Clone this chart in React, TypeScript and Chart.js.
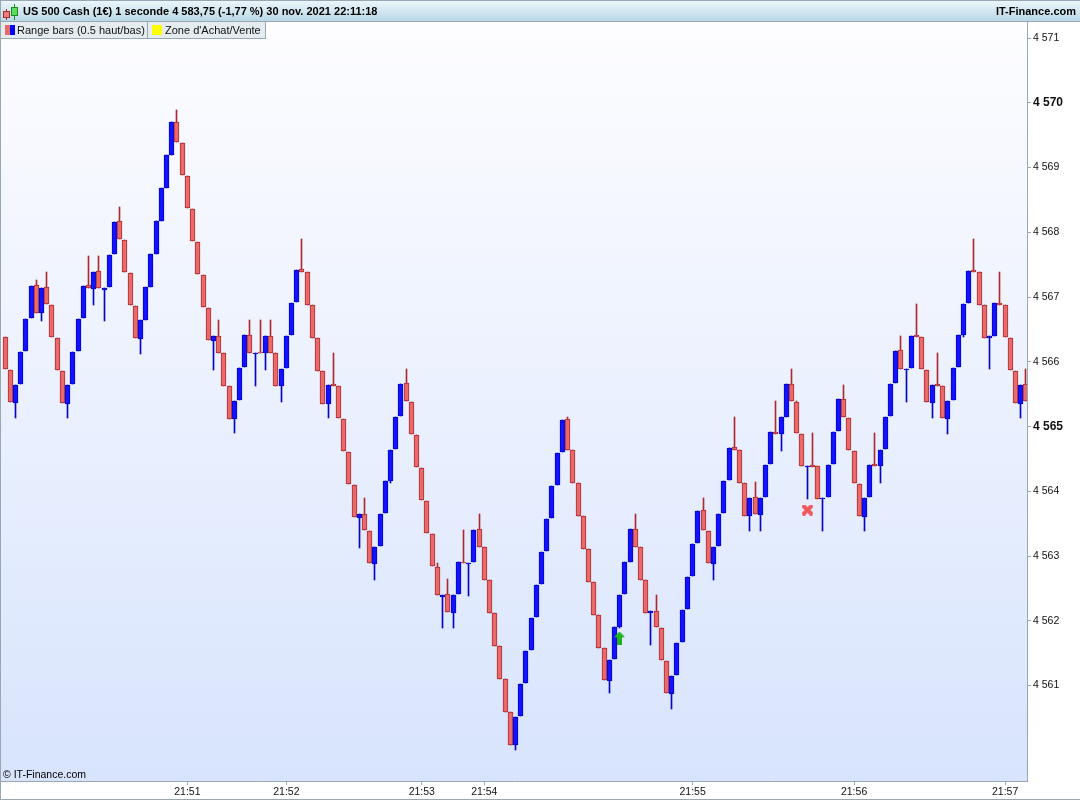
import { useEffect, useRef } from 'react';
import Chart from 'chart.js/auto';

const opens = [
  4566.38, 4565.87, 4565.36, 4565.66, 4566.17, 4566.68, 4567.19, 4566.75, 4567.16, 4566.88,
  4566.37, 4565.86, 4565.35, 4565.66, 4566.17, 4566.68, 4567.19, 4567.12, 4567.40, 4567.11,
  4567.16, 4567.66, 4568.17, 4567.88, 4567.37, 4566.86, 4566.35, 4566.65, 4567.16, 4567.66,
  4568.17, 4568.68, 4569.19, 4569.70, 4569.38, 4568.87, 4568.36, 4567.85, 4567.34, 4566.83,
  4566.32, 4566.40, 4566.14, 4565.62, 4565.12, 4565.41, 4565.92, 4566.41, 4566.12, 4566.15,
  4566.14, 4566.40, 4566.14, 4565.62, 4565.90, 4566.41, 4566.92, 4567.43, 4567.39, 4566.88,
  4566.37, 4565.86, 4565.35, 4565.66, 4565.62, 4565.12, 4564.61, 4564.10, 4563.59, 4563.65,
  4563.39, 4562.88, 4563.16, 4563.66, 4564.16, 4564.65, 4565.16, 4565.67, 4565.38, 4564.87,
  4564.36, 4563.85, 4563.34, 4562.83, 4562.37, 4562.41, 4562.12, 4562.41, 4562.91, 4562.88,
  4562.91, 4563.42, 4563.14, 4562.63, 4562.12, 4561.61, 4561.10, 4560.59, 4560.08, 4560.53,
  4561.04, 4561.55, 4562.06, 4562.57, 4563.08, 4563.59, 4564.10, 4564.61, 4565.12, 4564.64,
  4564.13, 4563.62, 4563.11, 4562.60, 4562.09, 4561.58, 4561.07, 4561.41, 4561.90, 4562.41,
  4562.91, 4563.42, 4563.14, 4562.63, 4562.12, 4562.15, 4561.89, 4561.38, 4560.87, 4561.16,
  4561.67, 4562.18, 4562.69, 4563.20, 4563.71, 4563.39, 4562.88, 4563.16, 4563.66, 4564.17,
  4564.68, 4564.64, 4564.13, 4563.62, 4563.91, 4563.63, 4563.91, 4564.42, 4564.92, 4564.88,
  4565.15, 4565.66, 4565.38, 4564.88, 4564.37, 4564.41, 4564.39, 4563.88, 4563.91, 4564.42,
  4564.93, 4565.43, 4565.13, 4564.62, 4564.11, 4563.60, 4563.91, 4564.42, 4564.39, 4564.65,
  4565.16, 4565.67, 4566.18, 4565.87, 4565.90, 4566.41, 4566.38, 4565.87, 4565.36, 4565.66,
  4565.62, 4565.12, 4565.41, 4565.92, 4566.41, 4566.91, 4567.42, 4567.39, 4566.88, 4566.37,
  4566.40, 4566.91, 4566.88, 4566.37, 4565.86, 4565.35, 4565.66,
];

const closes = [
  4565.89, 4565.38, 4565.64, 4566.15, 4566.66, 4567.17, 4566.75, 4567.14, 4566.89, 4566.38,
  4565.87, 4565.36, 4565.64, 4566.15, 4566.66, 4567.17, 4567.14, 4567.39, 4567.14, 4567.14,
  4567.65, 4568.16, 4567.90, 4567.39, 4566.88, 4566.37, 4566.65, 4567.16, 4567.66, 4568.17,
  4568.68, 4569.19, 4569.70, 4569.39, 4568.88, 4568.37, 4567.87, 4567.36, 4566.85, 4566.34,
  4566.40, 4566.14, 4565.62, 4565.12, 4565.39, 4565.90, 4566.41, 4566.14, 4566.14, 4566.14,
  4566.40, 4566.14, 4565.62, 4565.89, 4566.40, 4566.91, 4567.42, 4567.39, 4566.88, 4566.37,
  4565.86, 4565.35, 4565.64, 4565.62, 4565.13, 4564.62, 4564.11, 4563.60, 4563.65, 4563.40,
  4562.89, 4563.14, 4563.65, 4564.16, 4564.64, 4565.15, 4565.66, 4565.39, 4564.88, 4564.37,
  4563.87, 4563.36, 4562.85, 4562.40, 4562.40, 4562.14, 4562.40, 4562.91, 4562.89, 4562.89,
  4563.40, 4563.14, 4562.63, 4562.12, 4561.61, 4561.10, 4560.59, 4560.08, 4560.51, 4561.02,
  4561.53, 4562.04, 4562.55, 4563.06, 4563.57, 4564.08, 4564.59, 4565.10, 4564.64, 4564.13,
  4563.62, 4563.11, 4562.60, 4562.09, 4561.58, 4561.09, 4561.39, 4561.90, 4562.40, 4562.91,
  4563.42, 4563.14, 4562.63, 4562.12, 4562.15, 4561.90, 4561.39, 4560.89, 4561.15, 4561.66,
  4562.17, 4562.68, 4563.19, 4563.70, 4563.40, 4562.89, 4563.14, 4563.65, 4564.16, 4564.67,
  4564.64, 4564.13, 4563.62, 4563.90, 4563.65, 4563.90, 4564.41, 4564.92, 4564.88, 4565.15,
  4565.66, 4565.39, 4564.90, 4564.39, 4564.39, 4564.37, 4563.88, 4563.90, 4564.41, 4564.92,
  4565.43, 4565.15, 4564.64, 4564.13, 4563.62, 4563.90, 4564.41, 4564.39, 4564.64, 4565.15,
  4565.66, 4566.17, 4565.89, 4565.89, 4566.40, 4566.38, 4565.89, 4565.38, 4565.64, 4565.62,
  4565.13, 4565.39, 4565.90, 4566.41, 4566.89, 4567.40, 4567.39, 4566.88, 4566.37, 4566.40,
  4566.91, 4566.88, 4566.38, 4565.87, 4565.36, 4565.64, 4565.39,
];

const highs = [
  4566.38, 4565.87, 4565.64, 4566.15, 4566.66, 4567.17, 4567.26, 4567.14, 4567.39, 4566.88,
  4566.37, 4565.86, 4565.64, 4566.15, 4566.66, 4567.17, 4567.63, 4567.39, 4567.63, 4567.14,
  4567.65, 4568.16, 4568.39, 4567.88, 4567.37, 4566.86, 4566.65, 4567.16, 4567.66, 4568.17,
  4568.68, 4569.19, 4569.70, 4569.89, 4569.38, 4568.87, 4568.36, 4567.85, 4567.34, 4566.83,
  4566.40, 4566.65, 4566.14, 4565.62, 4565.39, 4565.90, 4566.41, 4566.65, 4566.14, 4566.65,
  4566.40, 4566.65, 4566.14, 4565.89, 4566.40, 4566.91, 4567.42, 4567.90, 4567.39, 4566.88,
  4566.37, 4565.86, 4565.64, 4566.14, 4565.62, 4565.12, 4564.61, 4564.10, 4563.65, 4563.90,
  4563.39, 4563.14, 4563.65, 4564.16, 4564.64, 4565.15, 4565.66, 4565.89, 4565.38, 4564.87,
  4564.36, 4563.85, 4563.34, 4562.89, 4562.40, 4562.65, 4562.40, 4562.91, 4563.40, 4562.89,
  4563.40, 4563.65, 4563.14, 4562.63, 4562.12, 4561.61, 4561.10, 4560.59, 4560.51, 4561.02,
  4561.53, 4562.04, 4562.55, 4563.06, 4563.57, 4564.08, 4564.59, 4565.10, 4565.15, 4564.64,
  4564.13, 4563.62, 4563.11, 4562.60, 4562.09, 4561.58, 4561.39, 4561.90, 4562.40, 4562.91,
  4563.42, 4563.65, 4563.14, 4562.63, 4562.15, 4562.40, 4561.89, 4561.38, 4561.15, 4561.66,
  4562.17, 4562.68, 4563.19, 4563.70, 4563.90, 4563.39, 4563.14, 4563.65, 4564.16, 4564.67,
  4565.15, 4564.64, 4564.13, 4563.90, 4564.14, 4563.90, 4564.41, 4564.92, 4565.39, 4565.15,
  4565.66, 4565.89, 4565.39, 4564.88, 4564.39, 4564.90, 4564.39, 4563.90, 4564.41, 4564.92,
  4565.43, 4565.64, 4565.13, 4564.62, 4564.11, 4563.90, 4564.41, 4564.90, 4564.64, 4565.15,
  4565.66, 4566.17, 4566.40, 4565.89, 4566.40, 4566.89, 4566.38, 4565.87, 4565.64, 4566.14,
  4565.62, 4565.39, 4565.90, 4566.41, 4566.89, 4567.40, 4567.90, 4567.39, 4566.88, 4566.40,
  4566.91, 4567.39, 4566.88, 4566.37, 4565.86, 4565.64, 4565.89,
];

const lows = [
  4565.89, 4565.38, 4565.13, 4565.66, 4566.17, 4566.68, 4566.75, 4566.63, 4566.89, 4566.38,
  4565.87, 4565.36, 4565.13, 4565.66, 4566.17, 4566.68, 4567.14, 4566.88, 4567.14, 4566.63,
  4567.16, 4567.66, 4567.90, 4567.39, 4566.88, 4566.37, 4566.12, 4566.65, 4567.16, 4567.66,
  4568.17, 4568.68, 4569.19, 4569.39, 4568.88, 4568.37, 4567.87, 4567.36, 4566.85, 4566.34,
  4565.87, 4566.14, 4565.62, 4565.12, 4564.90, 4565.41, 4565.92, 4566.14, 4565.62, 4566.14,
  4565.87, 4566.14, 4565.62, 4565.38, 4565.90, 4566.41, 4566.92, 4567.39, 4566.88, 4566.37,
  4565.86, 4565.35, 4565.13, 4565.62, 4565.13, 4564.62, 4564.11, 4563.60, 4563.12, 4563.40,
  4562.89, 4562.63, 4563.16, 4563.66, 4564.13, 4564.65, 4565.16, 4565.39, 4564.88, 4564.37,
  4563.87, 4563.36, 4562.85, 4562.40, 4561.89, 4562.14, 4561.89, 4562.41, 4562.89, 4562.38,
  4562.91, 4563.14, 4562.63, 4562.12, 4561.61, 4561.10, 4560.59, 4560.08, 4560.00, 4560.53,
  4561.04, 4561.55, 4562.06, 4562.57, 4563.08, 4563.59, 4564.10, 4564.61, 4564.64, 4564.13,
  4563.62, 4563.11, 4562.60, 4562.09, 4561.58, 4561.09, 4560.89, 4561.41, 4561.89, 4562.41,
  4562.91, 4563.14, 4562.63, 4562.12, 4561.62, 4561.90, 4561.39, 4560.89, 4560.64, 4561.16,
  4561.67, 4562.18, 4562.69, 4563.20, 4563.40, 4562.89, 4562.63, 4563.16, 4563.66, 4564.17,
  4564.64, 4564.13, 4563.62, 4563.39, 4563.65, 4563.39, 4563.91, 4564.42, 4564.88, 4564.62,
  4565.15, 4565.39, 4564.90, 4564.39, 4563.88, 4564.37, 4563.88, 4563.39, 4563.91, 4564.42,
  4564.93, 4565.15, 4564.64, 4564.13, 4563.62, 4563.39, 4563.91, 4564.39, 4564.13, 4564.65,
  4565.16, 4565.67, 4565.89, 4565.38, 4565.90, 4566.38, 4565.89, 4565.38, 4565.13, 4565.62,
  4565.13, 4564.88, 4565.41, 4565.92, 4566.38, 4566.91, 4567.39, 4566.88, 4566.37, 4565.89,
  4566.40, 4566.88, 4566.38, 4565.87, 4565.36, 4565.13, 4565.39,
];

const timeTickBars = [35, 54, 80, 92, 132, 163, 192];
const timeTickLabels = ['21:51', '21:52', '21:53', '21:54', '21:55', '21:56', '21:57'];

const priceTicks = [4561, 4562, 4563, 4564, 4565, 4566, 4567, 4568, 4569, 4570, 4571];
const priceTickLabels = ['4 561', '4 562', '4 563', '4 564', '4 565', '4 566', '4 567', '4 568', '4 569', '4 570', '4 571'];
const boldPriceTicks = [4565, 4570];

const buyMarks = [{ x: 118, y: 4561.73 }];
const sellMarks = [{ x: 154, y: 4563.71 }];

const headerTitle = 'US 500 Cash (1€) 1 seconde 4 583,75 (-1,77 %) 30 nov. 2021 22:11:18';
const headerSite = 'IT-Finance.com';
const legendLabels = ['Range bars (0.5 haut/bas)', "Zone d'Achat/Vente"];
const copyright = '© IT-Finance.com';

const FONT = '"Liberation Sans", Arial, sans-serif';
const FRAME = '#98a8b2';
const BLUE_FILL = '#1212ff';
const BLUE_EDGE = '#0505c4';
const RED_FILL = '#e96b69';
const RED_EDGE = '#ad2b30';

const isUp = (i: number) => closes[i] >= opens[i];

const makeArrow = () => {
  const c = document.createElement('canvas');
  c.width = 11;
  c.height = 13;
  const g = c.getContext('2d')!;
  g.fillStyle = '#1fb41f';
  g.beginPath();
  g.moveTo(5.5, 0);
  g.lineTo(11, 5.5);
  g.lineTo(8, 6);
  g.lineTo(8, 13);
  g.lineTo(3, 13);
  g.lineTo(3, 6);
  g.lineTo(0, 5.5);
  g.closePath();
  g.fill();
  return c;
};

const makeCross = () => {
  const c = document.createElement('canvas');
  c.width = 11;
  c.height = 11;
  const g = c.getContext('2d')!;
  g.strokeStyle = '#ee5a5e';
  g.lineWidth = 4;
  g.lineCap = 'round';
  g.beginPath();
  g.moveTo(2, 2);
  g.lineTo(9, 9);
  g.moveTo(9, 2);
  g.lineTo(2, 9);
  g.stroke();
  return c;
};

// the original is drawn on whole pixels, so push the bars onto the pixel grid
const snapPlugin = {
  id: 'snap',
  afterDatasetsUpdate(chart: any) {
    chart.data.datasets.forEach((_: any, d: number) => {
      const meta = chart.getDatasetMeta(d);
      meta.data.forEach((el: any) => {
        el.x = Math.floor(el.x) + 0.5;
        el.y = Math.round(el.y);
        if (el.base !== undefined) el.base = Math.round(el.base);
      });
    });
  },
};

const chromePlugin = {
  id: 'chrome',
  beforeDraw(chart: any) {
    const { ctx, chartArea: a } = chart;
    ctx.save();
    ctx.fillStyle = '#ffffff';
    ctx.fillRect(0, 0, 1080, 800);
    const bg = ctx.createLinearGradient(0, a.top, 0, a.bottom);
    bg.addColorStop(0, '#fdfdff');
    bg.addColorStop(1, '#d8e4fd');
    ctx.fillStyle = bg;
    ctx.fillRect(a.left, a.top, a.right - a.left, a.bottom - a.top);
    ctx.restore();
  },
  afterDraw(chart: any) {
    const { ctx } = chart;
    ctx.save();
    // header strip
    const hd = ctx.createLinearGradient(0, 0, 0, 21);
    hd.addColorStop(0, '#eef7fb');
    hd.addColorStop(1, '#b9d8e7');
    ctx.fillStyle = hd;
    ctx.fillRect(0, 0, 1080, 21);
    ctx.fillStyle = FRAME;
    ctx.fillRect(0, 0, 1080, 1);
    ctx.fillRect(0, 21, 1080, 1);
    ctx.fillRect(0, 0, 1, 800);
    ctx.fillRect(0, 799, 1080, 1);

    // little candle icon
    ctx.fillStyle = '#a82a2a';
    ctx.fillRect(6, 9, 1, 11);
    ctx.fillStyle = '#1c8c1c';
    ctx.fillRect(14, 4, 1, 16);
    ctx.fillStyle = '#a82a2a';
    ctx.fillRect(3, 11, 7, 7);
    ctx.fillStyle = '#ee7b78';
    ctx.fillRect(4, 12, 5, 5);
    ctx.fillStyle = '#1c8c1c';
    ctx.fillRect(11, 7, 7, 9);
    ctx.fillStyle = '#5fdc5f';
    ctx.fillRect(12, 8, 5, 7);

    ctx.fillStyle = '#000000';
    ctx.textBaseline = 'middle';
    ctx.font = `bold 11px ${FONT}`;
    ctx.textAlign = 'left';
    ctx.fillText(headerTitle, 23, 12);
    ctx.textAlign = 'right';
    ctx.fillText(headerSite, 1076, 12);

    // legend tabs
    ctx.fillStyle = '#e5ecf0';
    ctx.fillRect(1, 22, 264, 16);
    ctx.fillStyle = FRAME;
    ctx.fillRect(0, 38, 266, 1);
    ctx.fillRect(147, 22, 1, 16);
    ctx.fillRect(265, 22, 1, 17);
    ctx.fillStyle = '#e96b69';
    ctx.fillRect(5, 25, 5, 10);
    ctx.fillStyle = '#0000ff';
    ctx.fillRect(10, 25, 5, 10);
    ctx.fillStyle = '#ffff00';
    ctx.fillRect(152, 25, 10, 10);
    ctx.fillStyle = '#111111';
    ctx.font = `11px ${FONT}`;
    ctx.textAlign = 'left';
    ctx.fillText(legendLabels[0], 17, 30.5);
    ctx.fillText(legendLabels[1], 165, 30.5);

    ctx.fillStyle = '#000000';
    ctx.font = `10.5px ${FONT}`;
    ctx.fillText(copyright, 3, 775);
    ctx.restore();
  },
};

const App = () => {
  const chartRef = useRef<HTMLCanvasElement>(null);

  useEffect(() => {
    if (!chartRef.current) return;
    document.body.style.margin = '0';

    const chartInstance = new Chart(chartRef.current, {
      type: 'bar',
      data: {
        datasets: [
          {
            type: 'scatter',
            label: 'Achat',
            data: buyMarks,
            pointStyle: makeArrow(),
            order: 0,
          },
          {
            type: 'scatter',
            label: 'Vente',
            data: sellMarks,
            pointStyle: makeCross(),
            order: 0,
          },
          {
            label: 'Range bars',
            data: opens.map((o, i) => ({ x: i, y: [o, closes[i]] })),
            backgroundColor: opens.map((_, i) => (isUp(i) ? BLUE_FILL : RED_FILL)),
            borderColor: opens.map((_, i) => (isUp(i) ? BLUE_EDGE : RED_EDGE)),
            borderWidth: 1,
            borderSkipped: false,
            barThickness: 5,
            grouped: false,
            order: 1,
          },
          {
            label: 'Mèches',
            data: lows.map((l, i) => ({ x: i, y: [l, highs[i]] })),
            backgroundColor: opens.map((_, i) => (isUp(i) ? BLUE_EDGE : RED_EDGE)),
            borderWidth: 0,
            barThickness: 1,
            grouped: false,
            order: 2,
          },
        ],
      },
      options: {
        responsive: false,
        animation: false,
        devicePixelRatio: 1,
        events: [],
        layout: { autoPadding: false, padding: { left: 1, top: 22, right: 0, bottom: 0 } },
        plugins: {
          legend: { display: false },
          tooltip: { enabled: false },
        },
        scales: {
          x: {
            type: 'linear',
            offset: false,
            min: -0.787,
            max: 196.2,
            afterFit: (s: any) => {
              s.height = 19;
            },
            afterBuildTicks: (s: any) => {
              s.ticks = timeTickBars.map((value) => ({ value }));
            },
            grid: { offset: false, drawOnChartArea: false, tickLength: 4, color: FRAME },
            border: { color: FRAME, width: 1 },
            ticks: {
              autoSkip: false,
              maxRotation: 0,
              padding: 1,
              color: '#111111',
              font: { family: FONT, size: 10.5 },
              callback: (v: any) => timeTickLabels[timeTickBars.indexOf(v)],
            },
          },
          y: {
            type: 'linear',
            position: 'right',
            min: 4559.526,
            max: 4571.248,
            afterFit: (s: any) => {
              s.width = 53;
            },
            afterBuildTicks: (s: any) => {
              s.ticks = priceTicks.map((value) => ({ value }));
            },
            grid: { drawOnChartArea: false, tickLength: 4, color: FRAME },
            border: { color: FRAME, width: 1 },
            ticks: {
              padding: 2,
              color: '#111111',
              font: (c: any) =>
                boldPriceTicks.includes(c.tick?.value)
                  ? { family: FONT, size: 12, weight: 'bold' }
                  : { family: FONT, size: 10.5 },
              callback: (v: any) => priceTickLabels[priceTicks.indexOf(v)],
            },
          },
        },
      },
      plugins: [snapPlugin, chromePlugin],
    } as any);

    return () => {
      chartInstance.destroy();
    };
  }, []);

  return <canvas ref={chartRef} width={1080} height={800} style={{ display: 'block' }}></canvas>;
};

export default App;
